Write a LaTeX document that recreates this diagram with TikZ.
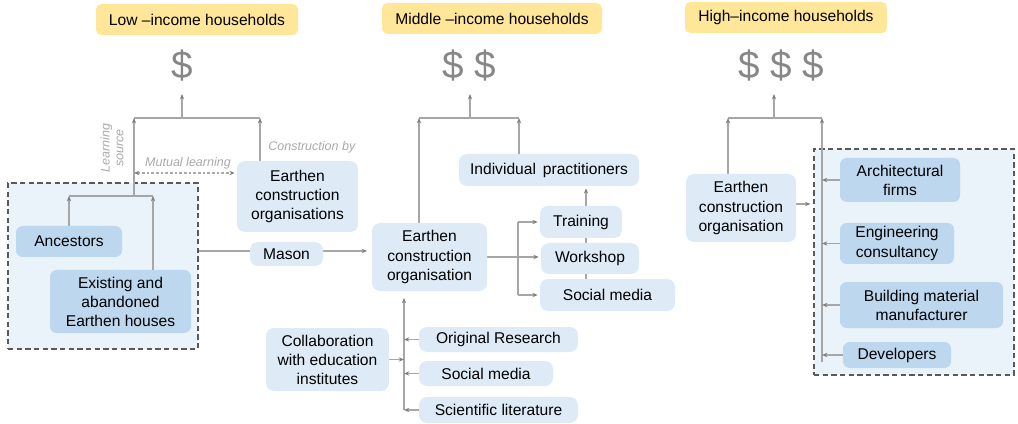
\documentclass[tikz,border=0pt]{standalone}
\usepackage{fontspec}
\setmainfont{Liberation Sans}
\usetikzlibrary{fit,arrows.meta}
\pgfdeclarelayer{grp}
\pgfdeclarelayer{back}
\pgfsetlayers{grp,back,main}
\definecolor{yel}{HTML}{FFE699}
\definecolor{lb}{HTML}{DEEBF7}
\definecolor{db}{HTML}{BDD7EE}
\definecolor{gf}{HTML}{EAF2FA}
\definecolor{ln}{HTML}{A6A6A6}
\definecolor{ah}{HTML}{7F7F7F}
\definecolor{dl}{HTML}{595959}
\definecolor{dol}{HTML}{878787}
\definecolor{lbl}{HTML}{A9A9A9}
\begin{document}
\begin{tikzpicture}[x=0.75pt,y=-0.75pt,
 rect/.style n args={4}{minimum width={(#3-#1)*0.75pt}, minimum height={(#4-#2)*0.75pt}, at={({(#1+#3)/2},{(#2+#4)/2})}},
 base/.style={inner sep=0pt, align=center, font=\fontsize{11.7}{14.3}\selectfont, text=black},
 yelbox/.style={base, fill=yel, rounded corners=4pt},
 lbox/.style={base, fill=lb, rounded corners=6pt},
 dbox/.style={base, fill=db, rounded corners=5pt},
 grpbox/.style={inner sep=0pt, draw=dl, fill=gf, line width=1.3pt, dash pattern=on 4pt off 2.5pt},
 dollar/.style={text=dol, font=\fontsize{29}{30}\selectfont, inner sep=0pt},
 conn/.style={draw=ln, line width=0.8pt},
 arr/.style={conn, -{Stealth[length=4pt,width=3.2pt,color=ah]}},
 dual/.style={draw=lbl, line width=0.8pt, dash pattern=on 2pt off 1.5pt, {Stealth[length=4pt,width=3.2pt,color=ah]}-{Stealth[length=4pt,width=3.2pt,color=ah]}},
 note/.style={text=lbl, font=\fontsize{9.4}{10.2}\selectfont\itshape, inner sep=0pt},
]
\useasboundingbox (0,0) rectangle (1018,424);

% groups
\begin{pgfonlayer}{grp}
\node[grpbox, rect={8}{183}{198}{349}] (lg) {};
\node[grpbox, rect={814}{149}{1014}{375}] (hg) {};
\end{pgfonlayer}

% headers
\node[yelbox, rect={96}{4}{298}{35}] (lowh) {Low –income households};
\node[yelbox, rect={382}{3}{602}{34}] (midh) {Middle –income households};
\node[yelbox, rect={685}{2}{887}{33}] (highh) {High–income households};

\node[dollar] (d1) at (182,66) {\$};
\node[dollar] (d2) at (469,66) {\$ \$};
\node[dollar] (d3) at (781,66) {\$ \$ \$};

% low-income
\node[dbox, rect={16}{226}{122}{257}] (anc) {Ancestors};
\node[dbox, rect={50}{270}{191}{333}] (ex) {Existing and\\abandoned\\Earthen houses};
\node[lbox, rect={237}{161}{358}{232}] (ec1) {Earthen\\construction\\organisations};
\node[lbox, rect={250}{242}{323}{266}] (mason) {Mason};
\node[note, rotate=90, align=center] (ls) at (112,148) {Learning\\source};
\node[note] (mlab) at (188,163) {Mutual learning};
\node[note, anchor=west] (cby) at (268,147) {Construction by};

% middle-income
\node[lbox, rect={372}{223}{487}{291}] (ec2) {Earthen\\construction\\organisation};
\node[lbox, rect={459}{154}{639}{186}] (ip) {Individual\ \,practitioners};
\node[lbox, rect={540}{206}{622}{238}] (tr) {Training};
\node[lbox, rect={541}{243}{639}{274}] (ws) {Workshop};
\node[lbox, rect={540}{279}{675}{311}] (sm1) {Social media};
\node[lbox, rect={266}{328}{389}{391}] (coll) {Collaboration\\with education\\institutes};
\node[lbox, rect={419}{327}{578}{352}] (orr) {Original Research};
\node[lbox, rect={419}{361}{553}{386}] (sm2) {Social media};
\node[lbox, rect={419}{397}{578}{423}] (sl) {Scientific literature};

% high-income
\node[lbox, rect={686}{174}{796}{242}] (ec3) {Earthen\\construction\\organisation};
\node[dbox, rect={840}{158}{960}{202}] (af) {Architectural\\firms};
\node[dbox, rect={840}{223}{954}{264}] (ecn) {Engineering\\consultancy};
\node[dbox, rect={840}{282}{1003}{328}] (bmm) {Building material\\manufacturer};
\node[dbox, rect={843}{342}{951}{368}] (dev) {Developers};

% coordinates
\coordinate (lj) at (182,118); \coordinate (ltip) at (182,94);
\coordinate (ll) at (134,118); \coordinate (lr) at (260,118);
\coordinate (ij) at (134,196); \coordinate (il) at (69,196); \coordinate (ir) at (153,196);
\coordinate (ml) at (134,173);
\coordinate (my) at (0,251);
\coordinate (mj) at (470,118); \coordinate (mtip) at (470,94);
\coordinate (ml2) at (419,118); \coordinate (mr2) at (519,118);
\coordinate (tx) at (586,0); \coordinate (bx) at (518,0);
\coordinate (vx) at (404,0); \coordinate (vb) at (404,410);
\coordinate (hj) at (774,118); \coordinate (htip) at (774,94);
\coordinate (hl) at (728,118); \coordinate (hr) at (822,118);
\coordinate (hb) at (822,362); \coordinate (hy) at (0,204);

\begin{pgfonlayer}{back}
% low
\draw[conn] (ll) -- (lr);
\draw[arr] (lj) -- (ltip);
\draw[arr] (ij) -- (ll);
\draw[arr] (ec1.north -| lr) -- (lr);
\draw[conn] (il) -- (ir);
\draw[arr] (anc.north) -- (il);
\draw[arr] (ex.north -| ir) -- (ir);
\draw[dual, shorten >=1.5pt] (ml) -- (ec1.west |- ml);
\draw[conn] (lg.east |- my) -- (mason.west |- my);
\draw[arr, shorten >=3.5pt] (mason.east |- my) -- (ec2.west |- my);
% middle
\draw[conn] (ml2) -- (mr2);
\draw[arr] (mj) -- (mtip);
\draw[arr] (ec2.north -| ml2) -- (ml2);
\draw[arr] (ip.north -| mr2) -- (mr2);
\draw[arr, shorten >=1.5pt] (sm1.north -| tx) -- (ip.south -| tx);
\draw[conn] (bx |- tr) -- (bx |- sm1);
\draw[arr, shorten >=1.5pt] (ec2.east) -- (ws.west |- ec2.east);
\draw[arr, shorten >=1.5pt] (bx |- tr) -- (tr.west);
\draw[arr, shorten >=1.5pt] (bx |- sm1) -- (sm1.west);
\draw[arr, shorten >=5pt] (vb) -- (ec2.south -| vx);
\draw[arr] (orr.west) -- (vx |- orr);
\draw[arr] (sm2.west) -- (vx |- sm2);
\draw[arr] (sl.west) -- (vx |- sl);
\draw[arr] (coll.east) -- (vx |- coll);
% high
\draw[conn] (hl) -- (hr);
\draw[arr] (hj) -- (htip);
\draw[arr] (ec3.north -| hl) -- (hl);
\draw[arr] (hb) -- (hr);
\draw[arr] (af.west) -- (hr |- af);
\draw[arr] (ecn.west) -- (hr |- ecn);
\draw[arr] (bmm.west) -- (hr |- bmm);
\draw[arr] (dev.west) -- (hr |- dev);
\draw[arr, shorten >=2pt] (ec3.east |- hy) -- (hg.west |- hy);
\end{pgfonlayer}
\end{tikzpicture}
\end{document}
